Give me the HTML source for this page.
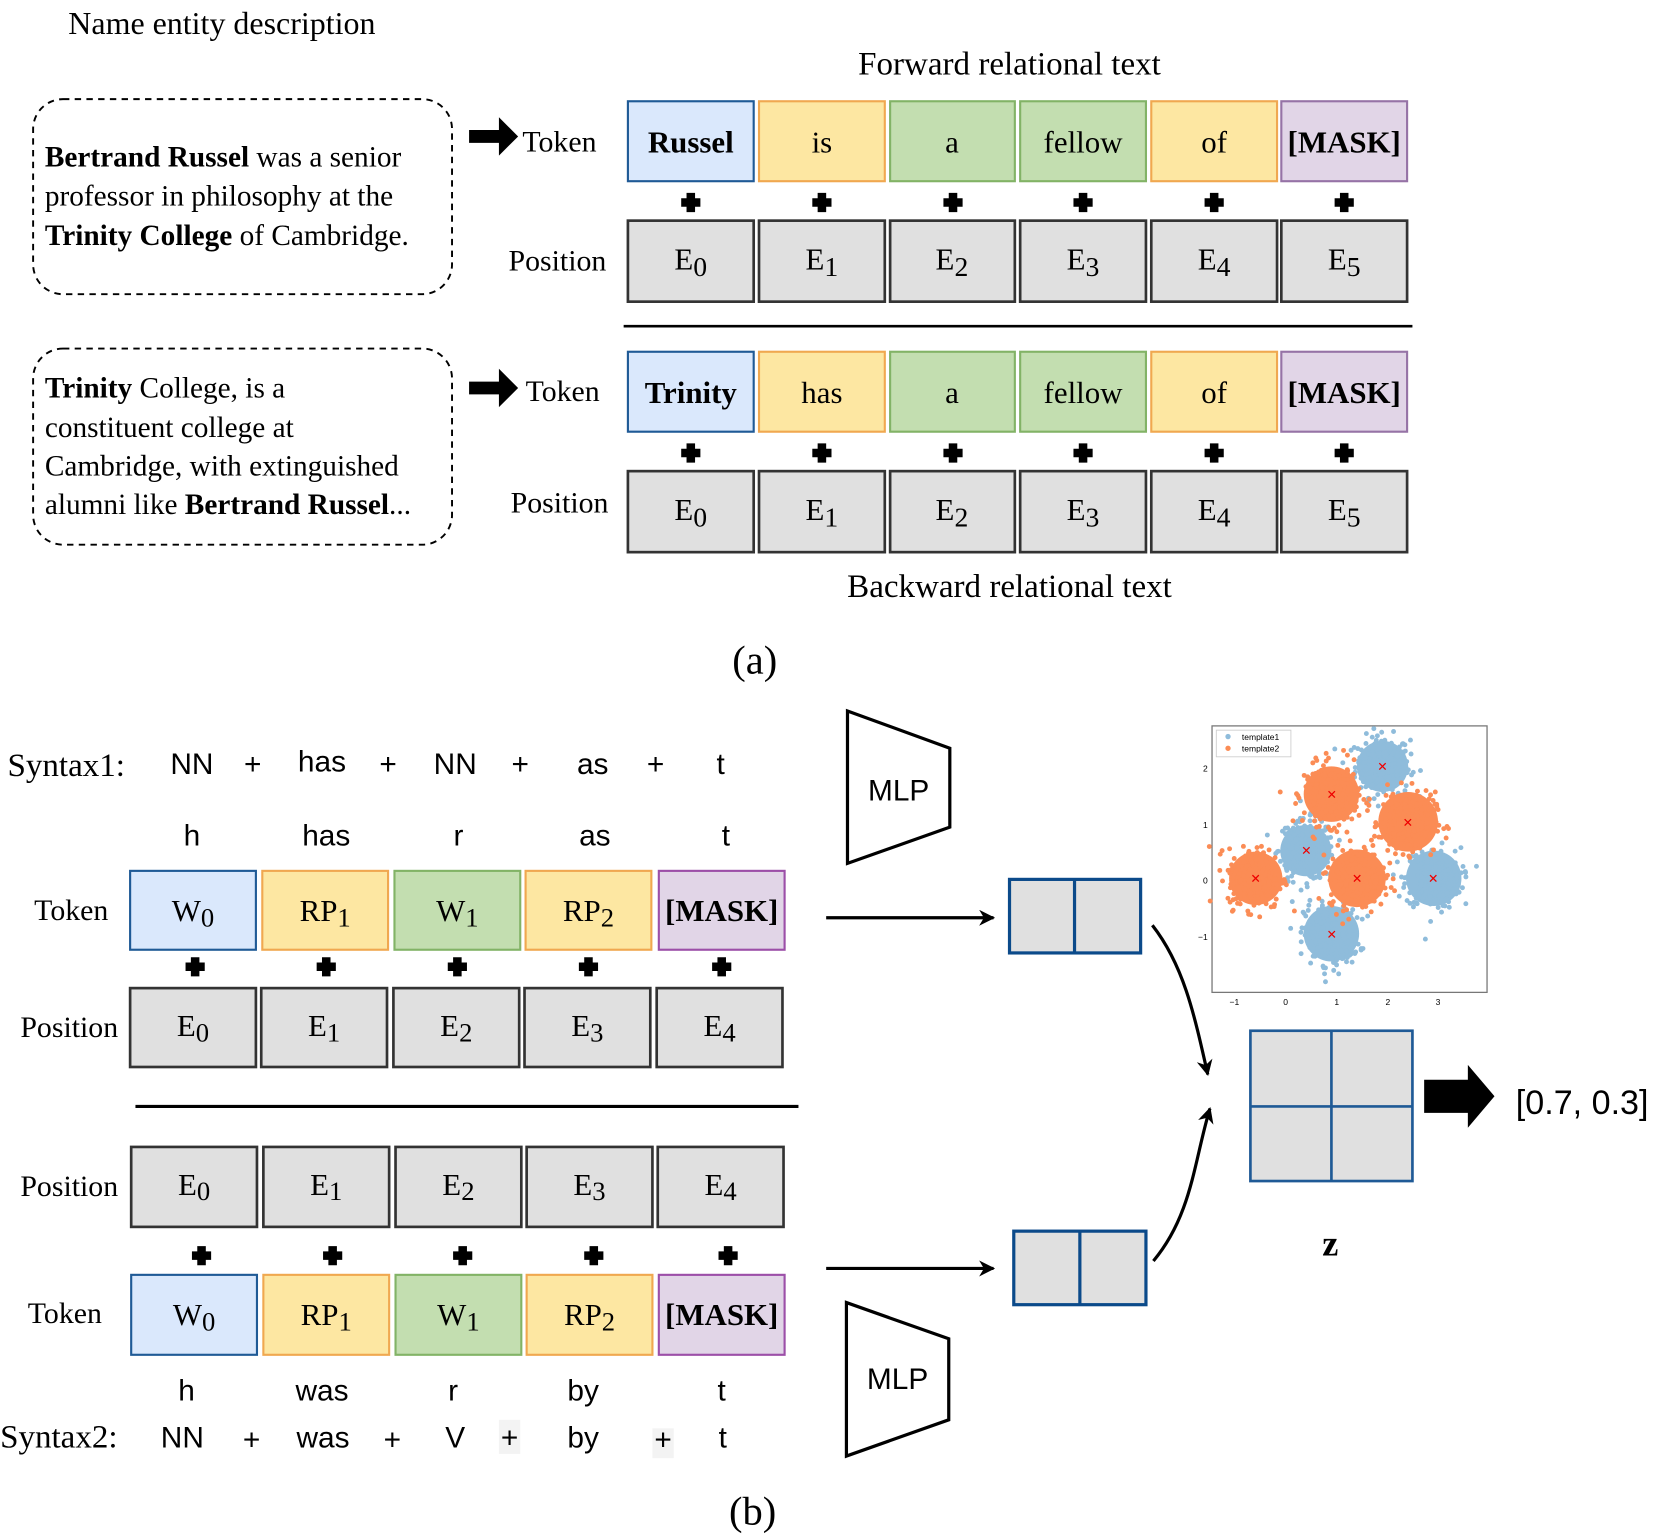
<!DOCTYPE html>
<html><head><meta charset="utf-8"><style>
html,body{margin:0;padding:0;background:#fff}
svg{display:block}
.s{font-family:"Liberation Serif",serif;fill:#000}
.a{font-family:"Liberation Sans",sans-serif;fill:#000}
.c{text-anchor:middle}
</style></head><body>
<svg width="1663" height="1536" viewBox="0 0 1560 1441" xmlns="http://www.w3.org/2000/svg">
<defs>
<marker id="ah" viewBox="0 0 10 10" refX="9" refY="5" markerWidth="5" markerHeight="5" orient="auto"><path d="M0,0 L10,5 L0,10 L3,5 z" fill="#000"/></marker>
</defs>
<g id="plus"></g>
<!-- (a) -->
<text class="s" x="64" y="32" font-size="30">Name entity description</text>
<text class="s c" x="947" y="70" font-size="31">Forward relational text</text>
<rect x="31" y="93" width="393" height="183" rx="28" fill="none" stroke="#000" stroke-width="1.8" stroke-dasharray="6,5"/>
<text class="s" font-size="27.5"><tspan x="42" y="156"><tspan font-weight="bold">Bertrand Russel</tspan> was a senior</tspan><tspan x="42" y="193">professor in philosophy at the</tspan><tspan x="42" y="230"><tspan font-weight="bold">Trinity College</tspan> of Cambridge.</tspan></text>
<rect x="31" y="327" width="393" height="184" rx="28" fill="none" stroke="#000" stroke-width="1.8" stroke-dasharray="6,5"/>
<text class="s" font-size="27.5"><tspan x="42" y="373"><tspan font-weight="bold">Trinity</tspan> College, is a</tspan><tspan x="42" y="410">constituent college at</tspan><tspan x="42" y="446">Cambridge, with extinguished</tspan><tspan x="42" y="482">alumni like <tspan font-weight="bold">Bertrand Russel</tspan>...</tspan></text>
<path d="M440,122 h28 v-12 l18,18 l-18,18 v-12 h-28 z" fill="#000"/>
<path d="M440,358 h28 v-12 l18,18 l-18,18 v-12 h-28 z" fill="#000"/>
<text class="s" x="490" y="142" font-size="28">Token</text>
<text class="s" x="477" y="254" font-size="28">Position</text>
<text class="s" x="493" y="376" font-size="28">Token</text>
<text class="s" x="479" y="481" font-size="28">Position</text>

<g stroke-width="2">
<rect x="589" y="95" width="118" height="75" fill="#dae8fc" stroke="#1f5a96"/>
<rect x="712" y="95" width="118" height="75" fill="#fde7a2" stroke="#f0a850"/>
<rect x="835" y="95" width="117" height="75" fill="#c3deb0" stroke="#82b366"/>
<rect x="957" y="95" width="118" height="75" fill="#c3deb0" stroke="#82b366"/>
<rect x="1080" y="95" width="118" height="75" fill="#fde7a2" stroke="#f0a850"/>
<rect x="1202" y="95" width="118" height="75" fill="#e1d5e7" stroke="#9673a6"/>
<rect x="589" y="330" width="118" height="75" fill="#dae8fc" stroke="#1f5a96"/>
<rect x="712" y="330" width="118" height="75" fill="#fde7a2" stroke="#f0a850"/>
<rect x="835" y="330" width="117" height="75" fill="#c3deb0" stroke="#82b366"/>
<rect x="957" y="330" width="118" height="75" fill="#c3deb0" stroke="#82b366"/>
<rect x="1080" y="330" width="118" height="75" fill="#fde7a2" stroke="#f0a850"/>
<rect x="1202" y="330" width="118" height="75" fill="#e1d5e7" stroke="#9673a6"/>
</g>
<g fill="#e0e0e0" stroke="#333" stroke-width="2.5">
<rect x="589" y="207" width="118" height="76"/><rect x="712" y="207" width="118" height="76"/><rect x="835" y="207" width="117" height="76"/><rect x="957" y="207" width="118" height="76"/><rect x="1080" y="207" width="118" height="76"/><rect x="1202" y="207" width="118" height="76"/>
<rect x="589" y="442" width="118" height="76"/><rect x="712" y="442" width="118" height="76"/><rect x="835" y="442" width="117" height="76"/><rect x="957" y="442" width="118" height="76"/><rect x="1080" y="442" width="118" height="76"/><rect x="1202" y="442" width="118" height="76"/>
</g>
<g class="s c" font-size="29">
<text x="648" y="143" font-weight="bold">Russel</text><text x="771" y="143">is</text><text x="893" y="143">a</text><text x="1016" y="143">fellow</text><text x="1139" y="143">of</text><text x="1261" y="143" font-weight="bold">[MASK]</text>
<text x="648" y="378" font-weight="bold">Trinity</text><text x="771" y="378">has</text><text x="893" y="378">a</text><text x="1016" y="378">fellow</text><text x="1139" y="378">of</text><text x="1261" y="378" font-weight="bold">[MASK]</text>
<text x="648" y="253">E<tspan font-size="26" dy="6">0</tspan></text><text x="771" y="253">E<tspan font-size="26" dy="6">1</tspan></text><text x="893" y="253">E<tspan font-size="26" dy="6">2</tspan></text><text x="1016" y="253">E<tspan font-size="26" dy="6">3</tspan></text><text x="1139" y="253">E<tspan font-size="26" dy="6">4</tspan></text><text x="1261" y="253">E<tspan font-size="26" dy="6">5</tspan></text>
<text x="648" y="488">E<tspan font-size="26" dy="6">0</tspan></text><text x="771" y="488">E<tspan font-size="26" dy="6">1</tspan></text><text x="893" y="488">E<tspan font-size="26" dy="6">2</tspan></text><text x="1016" y="488">E<tspan font-size="26" dy="6">3</tspan></text><text x="1139" y="488">E<tspan font-size="26" dy="6">4</tspan></text><text x="1261" y="488">E<tspan font-size="26" dy="6">5</tspan></text>
</g>
<g fill="#000">
<path d="M644,181h8v5h5v8h-5v5h-8v-5h-5v-8h5z"/><path d="M767,181h8v5h5v8h-5v5h-8v-5h-5v-8h5z"/><path d="M890,181h8v5h5v8h-5v5h-8v-5h-5v-8h5z"/><path d="M1012,181h8v5h5v8h-5v5h-8v-5h-5v-8h5z"/><path d="M1135,181h8v5h5v8h-5v5h-8v-5h-5v-8h5z"/><path d="M1257,181h8v5h5v8h-5v5h-8v-5h-5v-8h5z"/>
<path d="M644,416h8v5h5v8h-5v5h-8v-5h-5v-8h5z"/><path d="M767,416h8v5h5v8h-5v5h-8v-5h-5v-8h5z"/><path d="M890,416h8v5h5v8h-5v5h-8v-5h-5v-8h5z"/><path d="M1012,416h8v5h5v8h-5v5h-8v-5h-5v-8h5z"/><path d="M1135,416h8v5h5v8h-5v5h-8v-5h-5v-8h5z"/><path d="M1257,416h8v5h5v8h-5v5h-8v-5h-5v-8h5z"/>
</g>
<line x1="585" y1="306" x2="1325" y2="306" stroke="#000" stroke-width="2.5"/>
<text class="s c" x="947" y="560" font-size="31">Backward relational text</text>
<text class="s c" x="708" y="632" font-size="38">(a)</text>

<!-- (b) -->
<text class="s" x="7" y="728" font-size="31">Syntax1:</text>
<g class="a c" font-size="28">
<text x="180" y="726">NN</text><text x="237" y="726">+</text><text x="302" y="724">has</text><text x="364" y="726">+</text><text x="427" y="726">NN</text><text x="488" y="726">+</text><text x="556" y="726">as</text><text x="615" y="726">+</text><text x="676" y="726">t</text>
<text x="180" y="793">h</text><text x="306" y="793">has</text><text x="430" y="793">r</text><text x="558" y="793">as</text><text x="681" y="793">t</text>
<text x="175" y="1314">h</text><text x="302" y="1314">was</text><text x="425" y="1314">r</text><text x="547" y="1314">by</text><text x="677" y="1314">t</text>
</g>
<rect x="468" y="1332" width="20" height="32" fill="#f3f3f3"/>
<rect x="612" y="1340" width="20" height="28" fill="#f3f3f3"/>
<text class="s" x="0" y="1358" font-size="31">Syntax2:</text>
<g class="a c" font-size="28">
<text x="171" y="1358">NN</text><text x="236" y="1360">+</text><text x="303" y="1358">was</text><text x="368" y="1360">+</text><text x="427" y="1358">V</text><text x="478" y="1358">+</text><text x="547" y="1358">by</text><text x="622" y="1360">+</text><text x="678" y="1358">t</text>
</g>
<text class="s" x="32" y="863" font-size="28">Token</text>
<text class="s" x="19" y="973" font-size="28">Position</text>
<text class="s" x="19" y="1122" font-size="28">Position</text>
<text class="s" x="26" y="1241" font-size="28">Token</text>
<g stroke-width="2">
<rect x="122" y="817" width="118" height="74" fill="#dae8fc" stroke="#1f5a96"/>
<rect x="246" y="817" width="118" height="74" fill="#fde7a2" stroke="#f0a850"/>
<rect x="370" y="817" width="118" height="74" fill="#c3deb0" stroke="#82b366"/>
<rect x="493" y="817" width="118" height="74" fill="#fde7a2" stroke="#f0a850"/>
<rect x="618" y="817" width="118" height="74" fill="#e1d5e7" stroke="#9c4fa8"/>
<rect x="123" y="1196" width="118" height="75" fill="#dae8fc" stroke="#1f5a96"/>
<rect x="247" y="1196" width="118" height="75" fill="#fde7a2" stroke="#f0a850"/>
<rect x="371" y="1196" width="118" height="75" fill="#c3deb0" stroke="#82b366"/>
<rect x="494" y="1196" width="118" height="75" fill="#fde7a2" stroke="#f0a850"/>
<rect x="618" y="1196" width="118" height="75" fill="#e1d5e7" stroke="#9c4fa8"/>
</g>
<g fill="#e0e0e0" stroke="#333" stroke-width="2.5">
<rect x="122" y="927" width="118" height="74"/><rect x="245" y="927" width="118" height="74"/><rect x="369" y="927" width="118" height="74"/><rect x="492" y="927" width="118" height="74"/><rect x="616" y="927" width="118" height="74"/>
<rect x="123" y="1076" width="118" height="75"/><rect x="247" y="1076" width="118" height="75"/><rect x="371" y="1076" width="118" height="75"/><rect x="494" y="1076" width="118" height="75"/><rect x="617" y="1076" width="118" height="75"/>
</g>
<g class="s c" font-size="29">
<text x="181" y="864">W<tspan font-size="25" dy="5">0</tspan></text><text x="305" y="864">RP<tspan font-size="25" dy="5">1</tspan></text><text x="429" y="864">W<tspan font-size="25" dy="5">1</tspan></text><text x="552" y="864">RP<tspan font-size="25" dy="5">2</tspan></text><text x="677" y="864" font-weight="bold">[MASK]</text>
<text x="182" y="1243">W<tspan font-size="25" dy="5">0</tspan></text><text x="306" y="1243">RP<tspan font-size="25" dy="5">1</tspan></text><text x="430" y="1243">W<tspan font-size="25" dy="5">1</tspan></text><text x="553" y="1243">RP<tspan font-size="25" dy="5">2</tspan></text><text x="677" y="1243" font-weight="bold">[MASK]</text>
<text x="181" y="972">E<tspan font-size="25" dy="5">0</tspan></text><text x="304" y="972">E<tspan font-size="25" dy="5">1</tspan></text><text x="428" y="972">E<tspan font-size="25" dy="5">2</tspan></text><text x="551" y="972">E<tspan font-size="25" dy="5">3</tspan></text><text x="675" y="972">E<tspan font-size="25" dy="5">4</tspan></text>
<text x="182" y="1121">E<tspan font-size="25" dy="5">0</tspan></text><text x="306" y="1121">E<tspan font-size="25" dy="5">1</tspan></text><text x="430" y="1121">E<tspan font-size="25" dy="5">2</tspan></text><text x="553" y="1121">E<tspan font-size="25" dy="5">3</tspan></text><text x="676" y="1121">E<tspan font-size="25" dy="5">4</tspan></text>
</g>
<g fill="#000">
<path d="M179,898h8v5h5v8h-5v5h-8v-5h-5v-8h5z"/><path d="M302,898h8v5h5v8h-5v5h-8v-5h-5v-8h5z"/><path d="M425,898h8v5h5v8h-5v5h-8v-5h-5v-8h5z"/><path d="M548,898h8v5h5v8h-5v5h-8v-5h-5v-8h5z"/><path d="M673,898h8v5h5v8h-5v5h-8v-5h-5v-8h5z"/>
<path d="M185,1169h8v5h5v8h-5v5h-8v-5h-5v-8h5z"/><path d="M308,1169h8v5h5v8h-5v5h-8v-5h-5v-8h5z"/><path d="M430,1169h8v5h5v8h-5v5h-8v-5h-5v-8h5z"/><path d="M553,1169h8v5h5v8h-5v5h-8v-5h-5v-8h5z"/><path d="M679,1169h8v5h5v8h-5v5h-8v-5h-5v-8h5z"/>
</g>
<line x1="127" y1="1038" x2="749" y2="1038" stroke="#000" stroke-width="3"/>
<text class="s c" x="706" y="1430" font-size="38">(b)</text>

<polygon points="795,667 891,702 891,776 795,810" fill="#fff" stroke="#000" stroke-width="3"/>
<text class="a c" x="843" y="751" font-size="28">MLP</text>
<polygon points="794,1222 890,1256 890,1332 794,1366" fill="#fff" stroke="#000" stroke-width="3"/>
<text class="a c" x="842" y="1303" font-size="28">MLP</text>

<line x1="775" y1="861" x2="932" y2="861" stroke="#000" stroke-width="3" marker-end="url(#ah)"/>
<line x1="775" y1="1190" x2="932" y2="1190" stroke="#000" stroke-width="3" marker-end="url(#ah)"/>
<g fill="#e0e0e0" stroke="#0b4a8a" stroke-width="3">
<rect x="947" y="825" width="123" height="69"/><line x1="1008" y1="825" x2="1008" y2="894"/>
<rect x="951" y="1155" width="124" height="69"/><line x1="1013" y1="1155" x2="1013" y2="1224"/>
</g>
<g fill="#e0e0e0" stroke="#1f5a96" stroke-width="2.5">
<rect x="1173" y="967" width="152" height="141"/><line x1="1249" y1="967" x2="1249" y2="1108"/><line x1="1173" y1="1038" x2="1325" y2="1038"/>
</g>
<path d="M1081,868 C1110,905 1120,950 1133,1008" fill="none" stroke="#000" stroke-width="3" marker-end="url(#ah)"/>
<path d="M1082,1183 C1118,1140 1120,1090 1135,1040" fill="none" stroke="#000" stroke-width="3" marker-end="url(#ah)"/>
<text class="s c" x="1248" y="1178" font-size="34" font-weight="bold">z</text>
<path d="M1336,1013 h41 v-14 l25,29.5 l-25,29.5 v-14 h-41 z" fill="#000"/>
<text class="a" x="1422" y="1045" font-size="32">[0.7, 0.3]</text>

<!-- scatter plot -->
<rect x="1137" y="681" width="258" height="250" fill="#fff" stroke="#777" stroke-width="1.2"/>
<g id="blue" fill="#8fbcdb">
<circle cx="1297" cy="719" r="24"/><circle cx="1225" cy="798" r="24"/><circle cx="1345" cy="824" r="26"/><circle cx="1249" cy="876" r="26"/>
</g>
<g id="orange" fill="#fb8c55">
<circle cx="1249" cy="745" r="26"/><circle cx="1321" cy="771" r="28"/><circle cx="1178" cy="824" r="25"/><circle cx="1273" cy="824" r="27"/>
</g>
<g stroke="#e00" stroke-width="1.2" id="xs"></g>
<rect x="1141" y="685" width="70" height="25" fill="#fff" stroke="#ccc" stroke-width="0.8"/>
<circle cx="1152" cy="691" r="2.5" fill="#8fbcdb"/><circle cx="1152" cy="702" r="2.5" fill="#fb8c55"/>
<text class="a" x="1165" y="694" font-size="8">template1</text>
<text class="a" x="1165" y="705" font-size="8">template2</text>
<g class="a c" font-size="8" fill="#333">
<text x="1158" y="943">−1</text><text x="1206" y="943">0</text><text x="1254" y="943">1</text><text x="1302" y="943">2</text><text x="1349" y="943">3</text>
</g>
<g class="a" font-size="8" fill="#333" text-anchor="end">
<text x="1133" y="724">2</text><text x="1133" y="777">1</text><text x="1133" y="829">0</text><text x="1133" y="882">−1</text>
</g>
<script>
(function(){
var ns="http://www.w3.org/2000/svg";
var s=12345;function r(){s=(s*1103515245+12345)%2147483648;return s/2147483648;}
function g(){return Math.sqrt(-2*Math.log(r()+1e-9))*Math.cos(2*Math.PI*r());}
function X(u){return 1201.7+u*47.6;}function Y(v){return 824-v*52.5;}
function cl(id,cs,col){var el=document.getElementById(id);
cs.forEach(function(c){for(var i=0;i<260;i++){var ci=document.createElementNS(ns,"circle");
ci.setAttribute("cx",X(c[0]+g()*0.27));ci.setAttribute("cy",Y(c[1]+g()*0.27));ci.setAttribute("r",2.3);ci.setAttribute("fill",col);el.appendChild(ci);}});}
var B=[[2,2],[0.5,0.5],[3,0],[1,-1]],O=[[1,1.5],[2.5,1],[-0.5,0],[1.5,0]];
cl("blue",B,"#8fbcdb");cl("orange",O,"#fb8c55");
var xs=document.getElementById("xs");
B.concat(O).forEach(function(c){var x=X(c[0]),y=Y(c[1]);
var p=document.createElementNS(ns,"path");p.setAttribute("d","M"+(x-3)+","+(y-3)+"L"+(x+3)+","+(y+3)+"M"+(x+3)+","+(y-3)+"L"+(x-3)+","+(y+3));xs.appendChild(p);});
})();
</script>
</svg>
</body></html>
